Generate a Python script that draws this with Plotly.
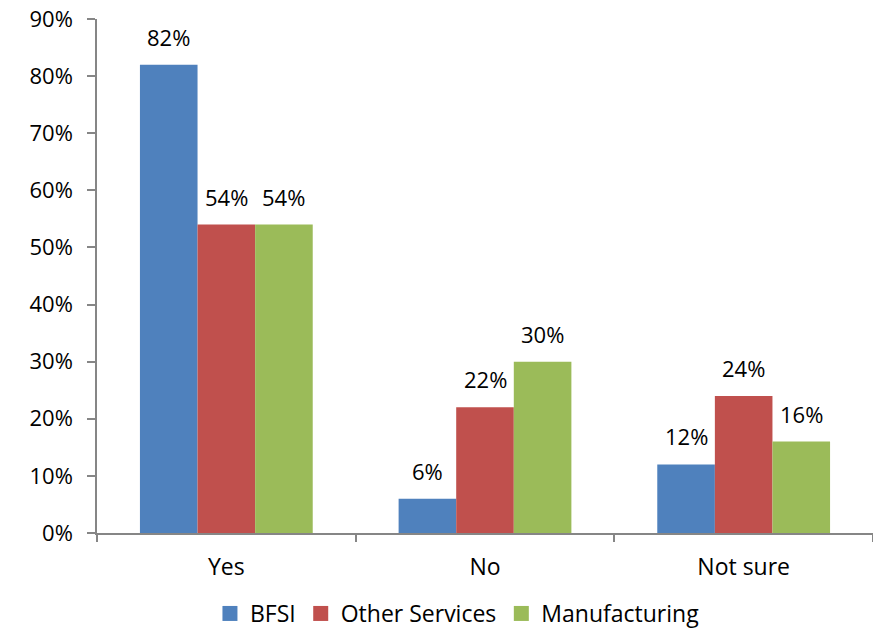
import plotly.graph_objects as go

# Survey answers per industry segment (share of respondents)
categories = ["Yes", "No", "Not sure"]
series_names = ["BFSI", "Other Services", "Manufacturing"]
bfsi = [0.82, 0.06, 0.12]
other_services = [0.54, 0.22, 0.24]
manufacturing = [0.54, 0.30, 0.16]
y_ticks = [0, 0.1, 0.2, 0.3, 0.4, 0.5, 0.6, 0.7, 0.8, 0.9]

colors = ["#4F81BD", "#C0504D", "#9BBB59"]
values = [bfsi, other_services, manufacturing]
FONT = "Open Sans"
NUM_SIZE = 22
TXT_SIZE = 23
BARGAP = 0.332

fig = go.Figure()
for name, vals, col in zip(series_names, values, colors):
    fig.add_trace(go.Bar(
        name=name, x=categories, y=vals, showlegend=False,
        marker=dict(color=col, line=dict(width=0)),
    ))
# legend keys drawn as larger square swatches
for name, col in zip(series_names, colors):
    fig.add_trace(go.Scatter(
        name=name, x=[None], y=[None], mode="markers",
        marker=dict(symbol="square", size=15, color=col),
        showlegend=True, hoverinfo="skip",
    ))

# value labels above each bar, positioned at the centre of its slot in the group
n = len(series_names)
bar_w = (1 - BARGAP) / n
annotations = []
for s, vals in enumerate(values):
    offset = -(1 - BARGAP) / 2 + bar_w * (s + 0.5)
    for i, v in enumerate(vals):
        annotations.append(dict(
            x=i + offset, y=v, xref="x", yref="y",
            text=f"{round(v * 100)}%", showarrow=False,
            yanchor="bottom", yshift=11,
            font=dict(family=FONT, size=NUM_SIZE, color="#000000"),
        ))

axis_col = "#868686"
fig.update_layout(
    width=873, height=635,
    margin=dict(l=97, r=0, t=19, b=102),
    paper_bgcolor="white", plot_bgcolor="white",
    barmode="group", bargap=BARGAP, bargroupgap=0,
    font=dict(family=FONT, size=TXT_SIZE, color="#000000"),
    annotations=annotations,
    showlegend=True,
    legend=dict(
        orientation="h", xref="container", yref="container",
        x=0.524, y=-0.008, xanchor="center", yanchor="bottom",
        font=dict(family=FONT, size=TXT_SIZE, color="#000000"),
        itemsizing="trace", tracegroupgap=0,
    ),
    xaxis=dict(
        type="category", showline=True, linecolor=axis_col, linewidth=1.5,
        ticks="outside", tickson="boundaries", ticklen=7, tickcolor=axis_col,
        tickwidth=1.5, ticklabelstandoff=13, showgrid=False,
        tickfont=dict(family=FONT, size=TXT_SIZE, color="#000000"),
    ),
    yaxis=dict(
        range=[0, 0.9], tickvals=y_ticks, tickformat=".0%",
        showline=True, linecolor=axis_col, linewidth=1.5,
        ticks="outside", ticklen=8, tickcolor=axis_col, tickwidth=1.5,
        ticklabelstandoff=10, showgrid=False, zeroline=False,
        tickfont=dict(family=FONT, size=NUM_SIZE, color="#000000"),
    ),
)

fig.write_html("out.html")
